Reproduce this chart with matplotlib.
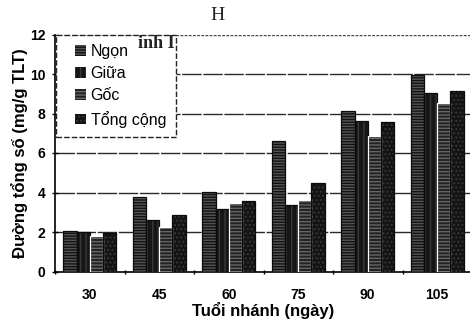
import matplotlib
matplotlib.use("Agg")
import matplotlib.pyplot as plt
import numpy as np
from matplotlib.patches import Patch, Rectangle
from matplotlib.legend_handler import HandlerPatch

categories = ["30", "45", "60", "75", "90", "105"]
series_names = ["Ngọn", "Giữa", "Gốc", "Tổng cộng"]
ngon = [2.05, 3.75, 4.05, 6.6, 8.15, 9.95]
giua = [2.0, 2.6, 3.15, 3.35, 7.6, 9.05]
goc = [1.8, 2.25, 3.45, 3.6, 6.85, 8.55]
tong = [1.95, 2.85, 3.55, 4.5, 7.55, 9.15]
y_ticks = [0, 2, 4, 6, 8, 10, 12]

plt.rcParams['font.family'] = ['Liberation Sans', 'DejaVu Sans']

W, H = 470, 327
fig = plt.figure(figsize=(W / 100, H / 100), dpi=100)
fig.patch.set_facecolor('white')
left, right, top, bottom = 55, 472, 34.5, 271.5
ax = fig.add_axes([left / W, 1 - bottom / H, (right - left) / W, (bottom - top) / H])

x = np.arange(len(categories))
bw = 0.19
styles = [
    dict(fc='#121212', hatch='------', hc='#555555'),
    dict(fc='#161616', hatch='|||', hc='#3a3a3a'),
    dict(fc='#222222', hatch='-----', hc='#656565'),
    dict(fc='#131313', hatch='....', hc='#363636'),
]
data = [ngon, giua, goc, tong]
for i, (vals, st) in enumerate(zip(data, styles)):
    xs = x + (i - 1.5) * bw
    ax.bar(xs, vals, bw, color=st['fc'], hatch=st['hatch'], edgecolor=st['hc'],
           linewidth=0, zorder=3)
    ec = 'white' if i == 2 else '#0a0a0a'
    ax.bar(xs, vals, bw, fill=False, edgecolor=ec, linewidth=0.9, zorder=4)

ax.set_xlim(-0.5, len(categories) - 0.5)
ax.set_ylim(0, 12)
ax.set_yticks(y_ticks)
ax.set_yticklabels([str(v) for v in y_ticks], fontsize=10, fontweight='bold')
ax.set_xticks(x)
ax.set_xticklabels(categories, fontsize=10, fontweight='bold')
ax.tick_params(axis='x', length=0, pad=12)
ax.set_xticks(np.arange(-0.5, len(categories), 1), minor=True)
ax.tick_params(axis='x', which='minor', length=3, direction='inout', width=1)
ax.tick_params(axis='y', length=4, direction='inout', width=1, pad=5)

for v in y_ticks[1:-1]:
    ax.axhline(v, color='#2a2a2a', lw=1.0, ls=(0, (14, 1.2)), zorder=1)
ax.axhline(12, color='#444444', lw=1.0, ls=(0, (2, 1)), zorder=1)

for s in ['top', 'right']:
    ax.spines[s].set_visible(False)
ax.spines['left'].set_linewidth(1.2)
ax.spines['bottom'].set_linewidth(1.2)

ax.set_xlabel("Tuổi nhánh (ngày)", fontsize=12, fontweight='bold', labelpad=0)
ax.set_ylabel("Đường tổng số (mg/g TLT)", fontsize=12, fontweight='bold', labelpad=1)


def square_right(legend, orig_handle, xdescent, ydescent, width, height, fontsize):
    s = height * 1.05
    return Rectangle((-xdescent + width - s, -ydescent + (height - s) / 2), s, s)


handles = [Patch(facecolor=st['fc'], hatch=st['hatch'], edgecolor=st['hc'], linewidth=0)
           for st in styles]
leg = ax.legend(handles, series_names, loc='upper left', bbox_to_anchor=(0.003, 1.0),
                fontsize=11.5, frameon=True, fancybox=False, borderaxespad=0.0,
                handlelength=1.25, handleheight=0.62, handletextpad=0.3,
                labelspacing=0.45, borderpad=0.6,
                handler_map={Patch: HandlerPatch(patch_func=square_right)})
fr = leg.get_frame()
fr.set_edgecolor('#222222')
fr.set_linestyle((0, (4, 1.5)))
fr.set_linewidth(1.0)
fr.set_facecolor('white')
fr.set_alpha(1)
leg.set_zorder(5)

fig.text(218 / W, 1 - 15 / H, "H", fontsize=14, family='Liberation Serif',
         ha='center', va='center', color='#222222')
fig.text(156 / W, 1 - 43 / H, "inh I", fontsize=13, family='Liberation Serif',
         fontweight='bold', ha='center', va='center', color='#222222', zorder=6)

fig.savefig("out.png", dpi=100, facecolor='white')
